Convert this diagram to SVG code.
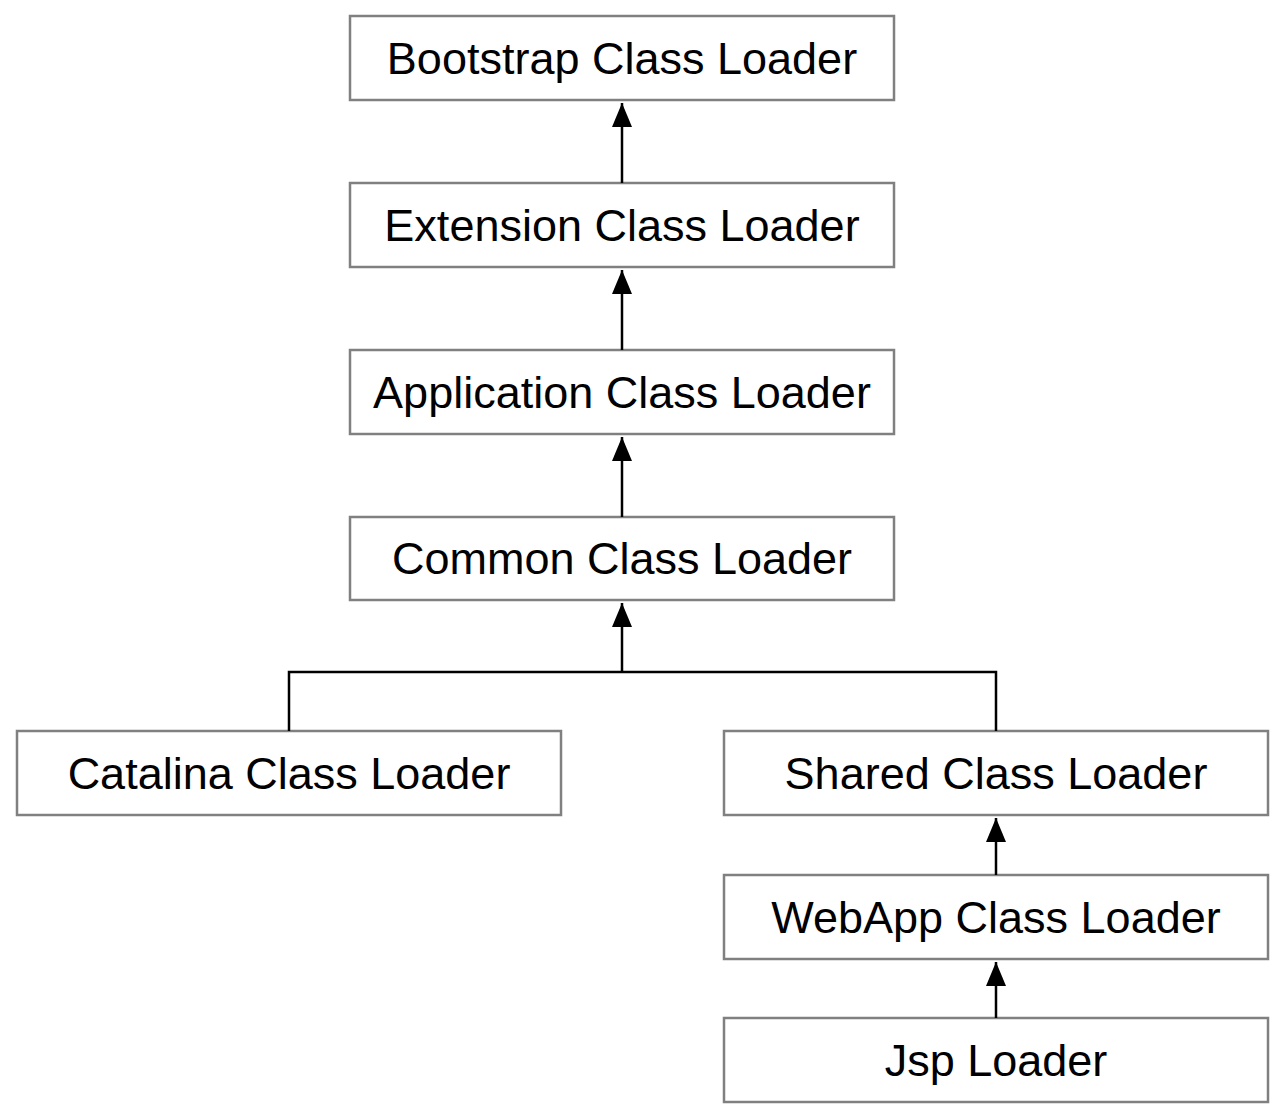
<svg xmlns="http://www.w3.org/2000/svg" width="1286" height="1118" viewBox="0 0 1286 1118">
<defs>
<marker id="arr" viewBox="0 0 24 20" refX="24" refY="10" markerWidth="24" markerHeight="20" markerUnits="userSpaceOnUse" orient="auto">
<path d="M0,0 L24,10 L0,20 Z" fill="#000"/>
</marker>
</defs>
<style>
.box{fill:#fff;stroke:#808080;stroke-width:2.5}
.lbl{font-family:"Liberation Sans",Arial,sans-serif;font-size:45px;fill:#000;text-anchor:middle}
.edge{fill:none;stroke:#000;stroke-width:2.5}
</style>
<rect width="1286" height="1118" fill="#fff"/>
<g id="bootstrap"><rect class="box" x="350" y="16" width="544" height="84"/><text class="lbl" x="622" y="74">Bootstrap Class Loader</text></g>
<g id="extension"><rect class="box" x="350" y="183" width="544" height="84"/><text class="lbl" x="622" y="241">Extension Class Loader</text></g>
<g id="application"><rect class="box" x="350" y="350" width="544" height="84"/><text class="lbl" x="622" y="408">Application Class Loader</text></g>
<g id="common"><rect class="box" x="350" y="517" width="544" height="83"/><text class="lbl" x="622" y="574">Common Class Loader</text></g>
<g id="catalina"><rect class="box" x="17" y="731" width="544" height="84"/><text class="lbl" x="289" y="789">Catalina Class Loader</text></g>
<g id="shared"><rect class="box" x="724" y="731" width="544" height="84"/><text class="lbl" x="996" y="789">Shared Class Loader</text></g>
<g id="webapp"><rect class="box" x="724" y="875" width="544" height="84"/><text class="lbl" x="996" y="933">WebApp Class Loader</text></g>
<g id="jsp"><rect class="box" x="724" y="1018" width="544" height="84"/><text class="lbl" x="996" y="1076">Jsp Loader</text></g>
<g id="connectors">
<path class="edge" d="M622,183 V103" marker-end="url(#arr)"/>
<path class="edge" d="M622,350 V270" marker-end="url(#arr)"/>
<path class="edge" d="M622,517 V437" marker-end="url(#arr)"/>
<path class="edge" d="M289,731 V672 H996 V731"/>
<path class="edge" d="M622,672 V603" marker-end="url(#arr)"/>
<path class="edge" d="M996,875 V818" marker-end="url(#arr)"/>
<path class="edge" d="M996,1018 V962" marker-end="url(#arr)"/>
</g>
</svg>
